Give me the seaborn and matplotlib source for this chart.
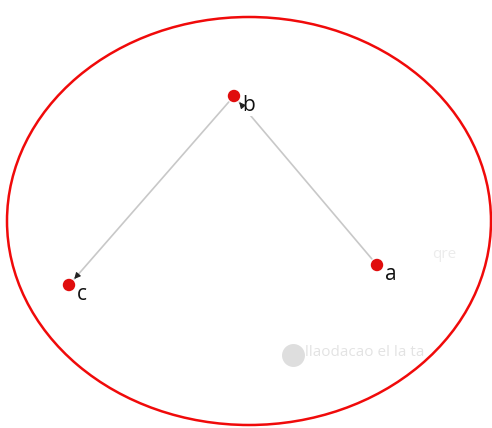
import numpy as np
import pandas as pd
import matplotlib
matplotlib.use('Agg')
import matplotlib.pyplot as plt
from matplotlib.patches import Ellipse
import seaborn as sns

# nodes (pixel-like coordinates, y grows downwards)
names = ['a', 'b', 'c']
xs = [377, 234, 69]
ys = [265, 96, 285]
edges = [('a', 'b'), ('b', 'c')]

df = pd.DataFrame({'name': names, 'x': xs, 'y': ys})
pos = {n: np.array([x, y], dtype=float) for n, x, y in zip(names, xs, ys)}

sns.set_style('white')
plt.rcParams['font.family'] = ['Open Sans', 'DejaVu Sans']

fig = plt.figure(figsize=(4.92, 4.28), dpi=100)
ax = fig.add_axes([0, 0, 1, 1])
ax.set_xlim(0, 492)
ax.set_ylim(428, 0)
ax.axis('off')

# faded ghost marks on the right
ax.scatter([293], [355], s=240, color='#dedede', zorder=1)
ax.text(305, 352, 'llaodacao el la ta', color='#e3e3e3', fontsize=11, va='center', zorder=1)
ax.text(432, 255, 'qre', color='#ececec', fontsize=11, va='center', zorder=1)

# big red ellipse
ax.add_patch(Ellipse((249, 221), 484, 408, fill=False, edgecolor='#f00a0a', lw=1.8, zorder=2))

# edges: gray line, small dark arrowhead near target
for s, t in edges:
    p0, p1 = pos[s], pos[t]
    d = (p1 - p0) / np.linalg.norm(p1 - p0)
    ax.annotate('', xy=p1 - d * 8, xytext=p0 + d * 8,
                arrowprops=dict(arrowstyle='-', color='#c8c8c8', lw=1.2, shrinkA=0, shrinkB=0), zorder=3)
    ax.annotate('', xy=p1 - d * 8, xytext=p1 - d * 14,
                arrowprops=dict(arrowstyle='-|>', color='#222222', lw=0.8, mutation_scale=9,
                                shrinkA=0, shrinkB=0), zorder=7)

sns.scatterplot(data=df, x='x', y='y', ax=ax, s=80, color='#e00d0d', edgecolor='none', zorder=5, legend=False)

for n, x, y in zip(names, xs, ys):
    ax.text(x + 8, y + 9, n, fontsize=15, color='#111111', va='center', ha='left',
            bbox=dict(facecolor='white', edgecolor='none', pad=0.5), zorder=6)

ax.set_xlabel('')
ax.set_ylabel('')
plt.savefig('out.png', dpi=100)
